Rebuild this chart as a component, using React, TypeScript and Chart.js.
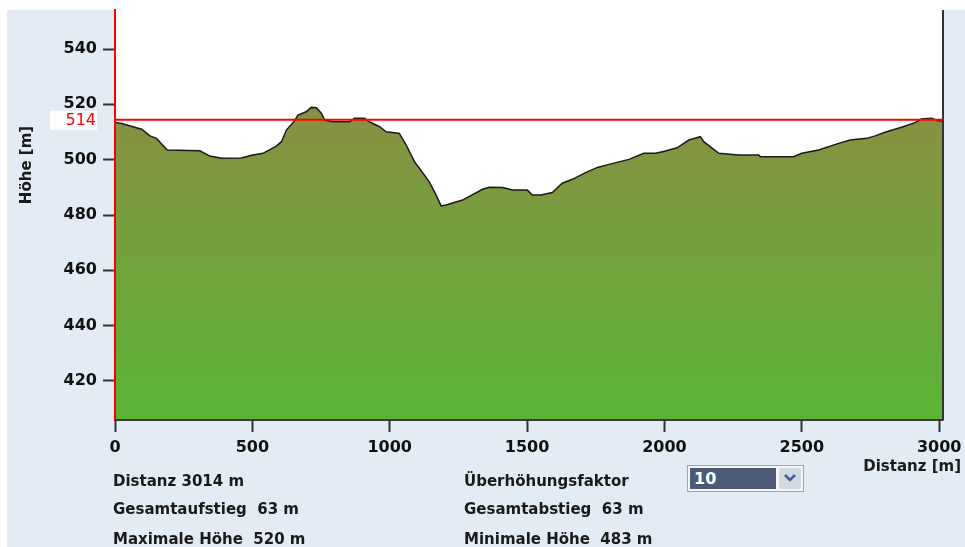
import React, { useEffect, useRef } from "react";
import { Chart, registerables } from "chart.js";

Chart.register(...registerables);

// Profile data (distance in m, height in m)
const distances = [0, 24, 97, 127, 151, 190, 309, 345, 388, 460, 502, 539, 587, 606, 624, 654, 666, 696, 714, 733, 751, 763, 792, 854, 872, 908, 926, 963, 987, 1035, 1060, 1090, 1108, 1144, 1169, 1187, 1205, 1265, 1338, 1362, 1411, 1447, 1501, 1519, 1550, 1592, 1628, 1665, 1713, 1756, 1798, 1871, 1925, 1968, 2004, 2046, 2089, 2131, 2143, 2198, 2270, 2343, 2349, 2470, 2500, 2561, 2634, 2676, 2736, 2767, 2803, 2863, 2912, 2936, 2972, 2997, 3014];
const heights = [513.4, 513.1, 511.0, 508.6, 507.7, 503.5, 503.2, 501.3, 500.5, 500.6, 501.7, 502.3, 504.9, 506.5, 510.7, 514.1, 516.1, 517.3, 518.9, 518.8, 516.8, 514.3, 513.7, 513.7, 515.0, 515.0, 513.7, 511.9, 510.1, 509.5, 505.3, 499.3, 496.9, 492.0, 487.2, 483.3, 483.6, 485.4, 489.3, 490.0, 489.9, 489.0, 489.0, 487.2, 487.2, 488.1, 491.5, 492.9, 495.3, 497.2, 498.3, 500.1, 502.3, 502.3, 503.1, 504.3, 507.1, 508.3, 506.5, 502.3, 501.7, 501.7, 501.1, 501.1, 502.3, 503.5, 505.9, 507.1, 507.7, 508.6, 509.9, 511.7, 513.4, 514.7, 515.0, 514.1, 514.0];

const xTicks = [0, 500, 1000, 1500, 2000, 2500, 3000];
const yTicks = [420, 440, 460, 480, 500, 520, 540];
const xMax = 3014;
const yMin = 405.9;
const yMax = 554.1;
const markerHeight = 514.4;

const yTitle = "Höhe [m]";
const xTitle = "Distanz [m]";

const infoLeft = ["Distanz 3014 m", "Gesamtaufstieg  63 m", "Maximale Höhe  520 m"];
const infoRight = ["Überhöhungsfaktor", "Gesamtabstieg  63 m", "Minimale Höhe  483 m"];
const factorValue = "10";

const FONT = "'DejaVu Sans', sans-serif";

const extrasPlugin = {
  id: "extras",
  beforeDraw(chart: any) {
    const { ctx, chartArea: a } = chart;
    ctx.save();
    ctx.fillStyle = "#ffffff";
    ctx.fillRect(a.left, 0, a.right - a.left, a.bottom);
    ctx.restore();
  },
  afterDraw(chart: any) {
    const { ctx, chartArea: a, scales } = chart;
    const y = scales.y.getPixelForValue(markerHeight);
    ctx.save();
    // right edge
    ctx.strokeStyle = "#333333";
    ctx.lineWidth = 2;
    ctx.beginPath();
    ctx.moveTo(a.right, a.top);
    ctx.lineTo(a.right, a.bottom);
    ctx.stroke();
    // bottom line
    ctx.strokeStyle = "#222222";
    ctx.lineWidth = 1.5;
    ctx.beginPath();
    ctx.moveTo(a.left, a.bottom);
    ctx.lineTo(a.right, a.bottom);
    ctx.stroke();
    // red marker lines
    ctx.strokeStyle = "#ff0000";
    ctx.lineWidth = 2;
    ctx.beginPath();
    ctx.moveTo(a.left, a.top);
    ctx.lineTo(a.left, a.bottom);
    ctx.stroke();
    ctx.beginPath();
    ctx.moveTo(a.left, y);
    ctx.lineTo(a.right, y);
    ctx.stroke();
    // marker label
    ctx.fillStyle = "#ffffff";
    ctx.fillRect(50, y - 9, 47, 19);
    ctx.fillStyle = "#ff0000";
    ctx.font = "16px " + FONT;
    ctx.textAlign = "right";
    ctx.textBaseline = "middle";
    ctx.fillText(String(Math.round(markerHeight)), 96, y + 1);
    // axis titles
    ctx.fillStyle = "#1a1a1a";
    ctx.font = "bold 15px " + FONT;
    ctx.textAlign = "right";
    ctx.fillText(xTitle, 961, 467);
    ctx.translate(27, 165);
    ctx.rotate(-Math.PI / 2);
    ctx.textAlign = "center";
    ctx.fillText(yTitle, 0, 0);
    ctx.restore();
  },
};

function ProfileChart() {
  const ref = useRef<HTMLCanvasElement>(null);
  useEffect(() => {
    if (!ref.current) return;
    const tickFont = { family: FONT, size: 16, weight: "bold" as const };
    const chart = new Chart(ref.current, {
      type: "line",
      data: {
        datasets: [
          {
            data: distances.map((d, i) => ({ x: d, y: heights[i] })),
            borderColor: "#1a1a1a",
            borderWidth: 1.5,
            pointRadius: 0,
            tension: 0,
            fill: "start",
            backgroundColor: (c: any) => {
              const a = c.chart.chartArea;
              if (!a) return "#7a9a3e";
              const g = c.chart.ctx.createLinearGradient(0, a.top, 0, a.bottom);
              g.addColorStop(0, "#8a8c40");
              g.addColorStop(0.3, "#849340");
              g.addColorStop(1, "#5ab434");
              return g;
            },
          },
        ],
      },
      options: {
        animation: false,
        responsive: false,
        maintainAspectRatio: false,
        layout: { padding: { top: 10, right: 22, left: 0, bottom: 0 } },
        plugins: { legend: { display: false }, tooltip: { enabled: false } },
        scales: {
          x: {
            type: "linear",
            min: 0,
            max: xMax,
            afterBuildTicks: (s: any) => {
              s.ticks = xTicks.map((v) => ({ value: v }));
            },
            afterFit: (s: any) => {
              s.height = 127;
              s.paddingLeft = 0;
              s.paddingRight = 0;
              s.paddingTop = 0;
              s.paddingBottom = 0;
            },
            grid: { drawOnChartArea: false, drawTicks: true, tickLength: 12, tickWidth: 2, tickColor: "#333333" },
            border: { color: "#222222", width: 1.5 },
            ticks: { font: tickFont, color: "#111111", padding: 6, maxRotation: 0, autoSkip: false, callback: (v: any) => String(v) },
          },
          y: {
            type: "linear",
            min: yMin,
            max: yMax,
            afterBuildTicks: (s: any) => {
              s.ticks = yTicks.map((v) => ({ value: v }));
            },
            afterFit: (s: any) => {
              s.width = 115;
              s.paddingLeft = 0;
              s.paddingRight = 0;
              s.paddingTop = 0;
              s.paddingBottom = 0;
            },
            grid: { drawOnChartArea: false, drawTicks: true, tickLength: 12, tickWidth: 2, tickColor: "#333333" },
            border: { color: "#ff0000", width: 2 },
            ticks: { font: tickFont, color: "#111111", padding: 6, autoSkip: false, callback: (v: any) => String(v) },
          },
        },
      },
      plugins: [extrasPlugin],
    });
    return () => chart.destroy();
  }, []);
  return <canvas ref={ref} width={965} height={547} style={{ position: "absolute", left: 0, top: 0, width: 965, height: 547 }} />;
}

export default function App() {
  const textStyle: React.CSSProperties = {
    position: "absolute",
    fontFamily: FONT,
    fontWeight: "bold",
    fontSize: 15,
    color: "#1a1a1a",
    whiteSpace: "pre",
    lineHeight: "18px",
  };
  const rowsY = [472, 500, 530];
  return (
    <div style={{ position: "fixed", left: 0, top: 0, width: 965, height: 547, background: "#ffffff", overflow: "hidden" }}>
      <div style={{ position: "absolute", left: 7, top: 10, width: 970, height: 560, background: "#e3ebf4" }} />
      <ProfileChart />
      {infoLeft.map((t, i) => (
        <div key={"l" + i} style={{ ...textStyle, left: 113, top: rowsY[i] }}>{t}</div>
      ))}
      {infoRight.map((t, i) => (
        <div key={"r" + i} style={{ ...textStyle, left: 464, top: rowsY[i] }}>{t}</div>
      ))}
      <div style={{ position: "absolute", left: 687, top: 465, width: 117, height: 27, background: "#f4f6f9", border: "1px solid #9aa6b8", boxSizing: "border-box" }}>
        <div style={{ position: "absolute", left: 2, top: 2, width: 86, height: 21, background: "#4b5a78", color: "#ffffff", fontFamily: FONT, fontWeight: "bold", fontSize: 16, lineHeight: "21px", paddingLeft: 4, boxSizing: "border-box" }}>{factorValue}</div>
        <div style={{ position: "absolute", left: 91, top: 2, width: 22, height: 21, background: "#d3d9e1", borderRadius: 2 }}>
          <svg width="22" height="21" viewBox="0 0 22 21">
            <polyline points="6,7 11,12 16,7" fill="none" stroke="#3f5f95" strokeWidth="2.5" />
          </svg>
        </div>
      </div>
    </div>
  );
}
